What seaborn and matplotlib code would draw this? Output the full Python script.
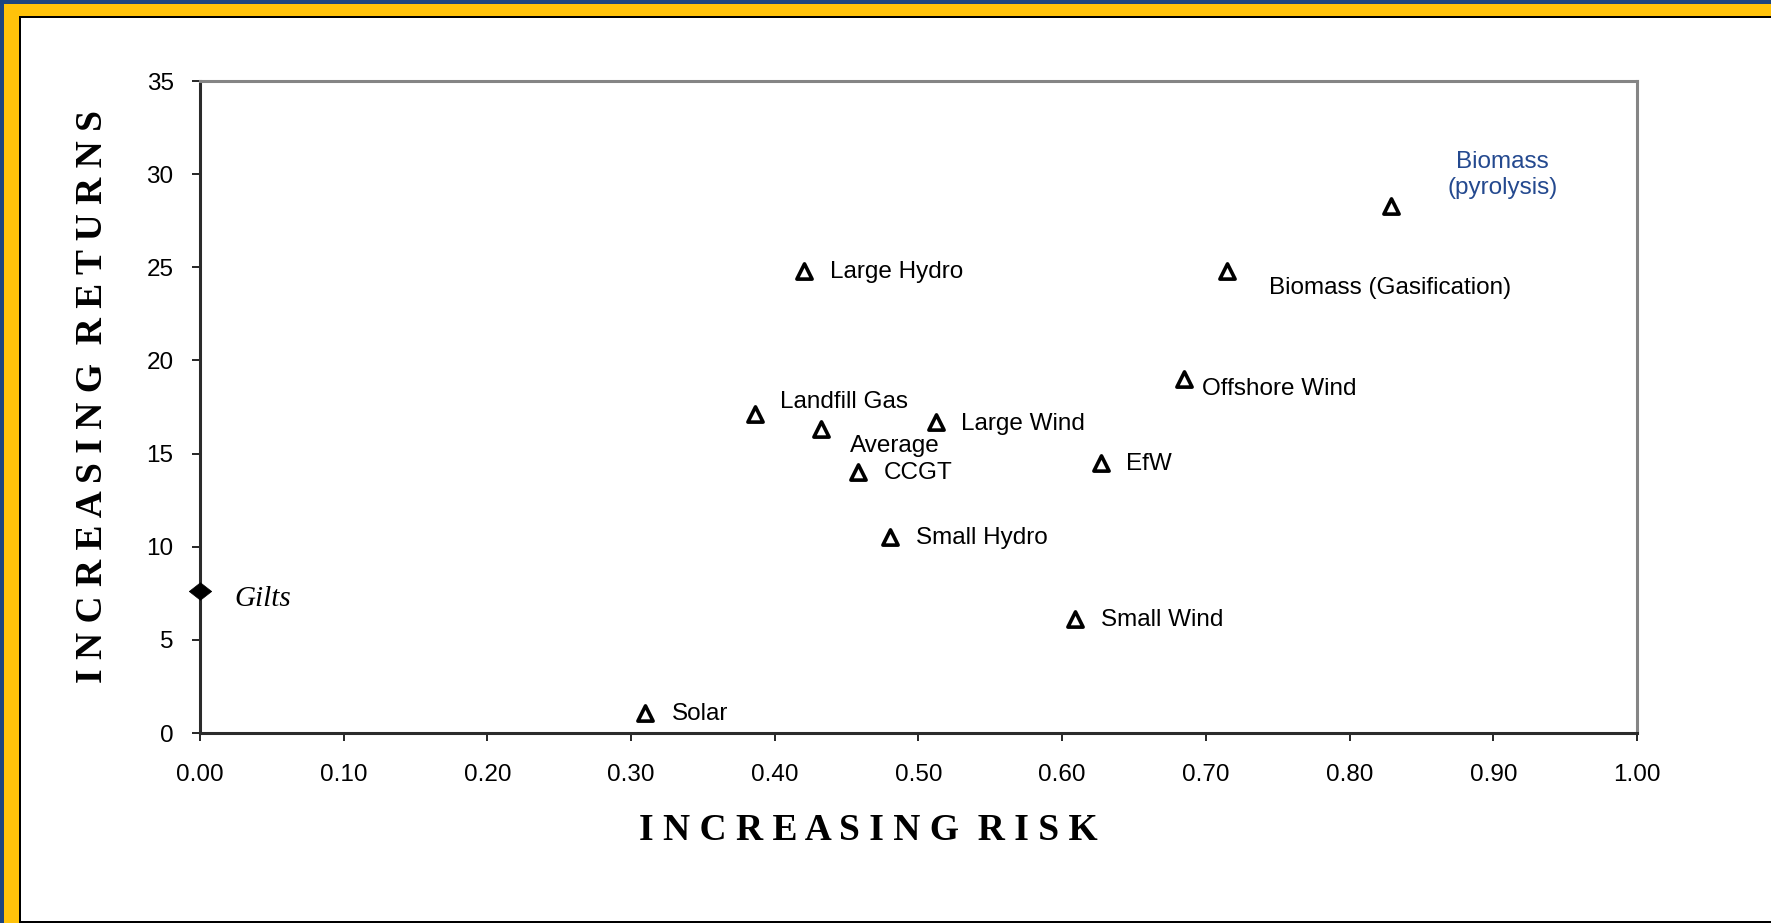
import matplotlib
matplotlib.use("Agg")
import matplotlib.pyplot as plt
from matplotlib.patches import Rectangle
import pandas as pd
import seaborn as sns

# Risk / return of generation technologies
techs = ["Solar", "Landfill Gas", "Average", "CCGT", "Small Hydro", "Large Hydro",
         "Large Wind", "EfW", "Small Wind", "Offshore Wind",
         "Biomass (Gasification)", "Biomass\n(pyrolysis)"]
risk = [0.31, 0.386, 0.432, 0.458, 0.48, 0.42, 0.512, 0.627, 0.609, 0.685, 0.715, 0.829]
returns = [1.1, 17.1, 16.3, 14.0, 10.5, 24.8, 16.7, 14.5, 6.1, 19.0, 24.8, 28.3]

# Benchmark
bench_name = ["Gilts"]
bench_risk = [0.0]
bench_return = [7.6]

x_ticks = [0.0, 0.1, 0.2, 0.3, 0.4, 0.5, 0.6, 0.7, 0.8, 0.9, 1.0]
y_ticks = [0, 5, 10, 15, 20, 25, 30, 35]

# label offsets in pixels (dx, dy)
offsets = {
    "Solar": (26, -1), "Landfill Gas": (25, 12), "Average": (29, -17),
    "CCGT": (26, -1), "Small Hydro": (26, -1), "Large Hydro": (26, -1),
    "Large Wind": (25, -2), "EfW": (25, -1), "Small Wind": (26, -1),
    "Offshore Wind": (18, -10), "Biomass (Gasification)": (42, -17),
    "Biomass\n(pyrolysis)": (111, 31),
}

df = pd.DataFrame({"tech": techs, "risk": risk, "returns": returns})
bench = pd.DataFrame({"name": bench_name, "risk": bench_risk, "returns": bench_return})

sns.set_theme(style="white")
plt.rcParams["font.family"] = ["Liberation Sans", "DejaVu Sans"]

W, H = 1771, 923
fig = plt.figure(figsize=(W / 100, H / 100), dpi=100)
fig.patch.set_facecolor("white")

# decorative frame: blue edge, yellow band, black inner line
blue, yellow = "#1C4480", "#FFC20A"
frame = [
    ((0, 0), 1, 1, blue),
    ((4 / W, 0), 1, 1 - 4 / H, yellow),
    ((19 / W, 0), 1, 1 - 16 / H, "black"),
    ((21 / W, 2 / H), 1, 1 - 20 / H, "white"),
]
for i, (xy, w, h, c) in enumerate(frame):
    fig.patches.append(Rectangle(xy, w, h, transform=fig.transFigure,
                                 facecolor=c, edgecolor="none", zorder=-10 + i))

left, right, top, bottom = 200, 1637, 81, 733
ax = fig.add_axes([left / W, 1 - bottom / H, (right - left) / W, (bottom - top) / H])
ax.set_facecolor("none")

sns.scatterplot(data=df, x="risk", y="returns", marker="^", s=120,
                color="white", edgecolor="black", linewidth=2.6, ax=ax,
                zorder=5, clip_on=False)
diamond = [(-1, 0), (0, 0.78), (1, 0), (0, -0.78), (-1, 0)]
sns.scatterplot(data=bench, x="risk", y="returns", marker=diamond, s=260,
                color="black", edgecolor="black", linewidth=0.5, ax=ax,
                zorder=6, clip_on=False)

label_size = 17.5
for name, xv, yv in zip(techs, risk, returns):
    dx, dy = offsets[name]
    if name.startswith("Biomass\n"):
        ax.annotate(name, (xv, yv), xytext=(dx, dy), textcoords="offset pixels",
                    ha="center", va="center", fontsize=label_size, color="#24498F",
                    linespacing=1.25, zorder=7)
    else:
        ax.annotate(name, (xv, yv), xytext=(dx, dy), textcoords="offset pixels",
                    ha="left", va="center", fontsize=label_size, color="black", zorder=7)

ax.annotate(bench_name[0], (bench_risk[0], bench_return[0]), xytext=(34, -8),
            textcoords="offset pixels", ha="left", va="center", fontsize=21,
            style="italic", family="Liberation Serif", color="black")

ax.set_xlim(0, 1.0)
ax.set_ylim(0, 35)
ax.set_xticks(x_ticks)
ax.set_yticks(y_ticks)
ax.set_xticklabels([f"{v:.2f}" for v in x_ticks])
ax.set_yticklabels([str(v) for v in y_ticks])
ax.tick_params(axis="both", which="major", direction="out", length=6, width=1.2,
               color="black", labelsize=17.5, labelcolor="black", bottom=True, left=True)
ax.tick_params(axis="x", pad=16)
ax.tick_params(axis="y", pad=13)

for side in ["top", "right"]:
    ax.spines[side].set_color("#858585")
    ax.spines[side].set_linewidth(2.2)
for side in ["left", "bottom"]:
    ax.spines[side].set_color("#2b2b2b")
    ax.spines[side].set_linewidth(2.2)
ax.grid(False)

ax.set_xlabel("I N C R E A S I N G  R I S K", family="Liberation Serif",
              fontweight="bold", fontsize=27, color="black")
ax.set_ylabel("I N C R E A S I N G  R E T U R N S", family="Liberation Serif",
              fontweight="bold", fontsize=27, color="black")
ax.xaxis.set_label_coords(0.465, -0.149)
ax.xaxis.label.set_va("center")
ax.yaxis.set_label_coords(-0.0747, 0.516)
ax.yaxis.label.set_va("center")

fig.savefig("out.png", dpi=100)
